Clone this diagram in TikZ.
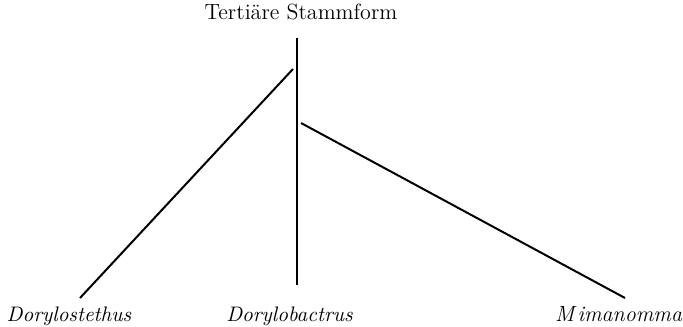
\documentclass[tikz,border=0pt]{standalone}
\usepackage{tikz}
\usetikzlibrary{positioning}

\begin{document}
\begin{tikzpicture}[x=0.5pt, y=-0.5pt, every node/.style={inner sep=1pt, anchor=base},
    taxon/.style={font=\fontsize{10.5}{12}\selectfont\itshape}]
    \useasboundingbox (0,0) rectangle (683,326);
    \node[font=\fontsize{11}{13}\selectfont] (stamm) at (301,20) {Tertiäre Stammform};
    \node[taxon] (stethus) at (69,321) {Dorylostethus};
    \node[taxon] (bactrus) at (289.5,321) {Dorylobactrus};
    \node[taxon, font=\fontsize{11}{12}\selectfont\itshape] (mimanomma) at (618.5,321) {M\kern1.6pt imanomma};
    \coordinate (top) at (297,38);
    \coordinate (lstart) at (293,69);
    \coordinate (rstart) at (301,123);
    \coordinate (lend) at (80,298);
    \coordinate (bend) at (297,285);
    \coordinate (rend) at (625,298);
    \draw[line width=1pt] (top) -- (bend);
    \draw[line width=1pt] (lstart) -- (lend);
    \draw[line width=1pt] (rstart) -- (rend);
  \end{tikzpicture}
\end{document}
